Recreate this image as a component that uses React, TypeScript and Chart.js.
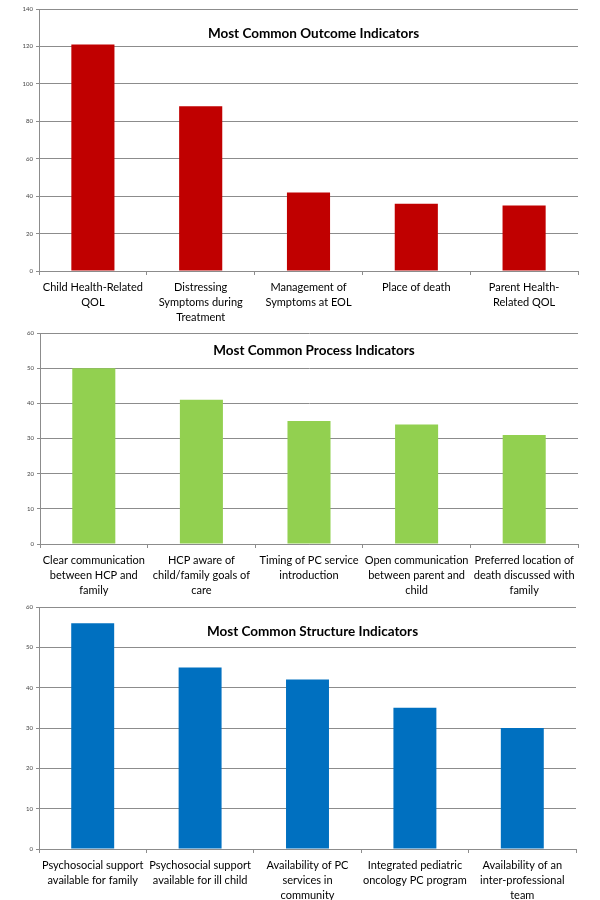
import React, { useEffect, useRef } from "react";
import { Chart, registerables } from "chart.js";

Chart.register(...registerables);

const outcomeTitle = "Most Common Outcome Indicators";
const outcomeLabels = [
  ["Child Health-Related", "QOL"],
  ["Distressing", "Symptoms during", "Treatment"],
  ["Management of", "Symptoms at EOL"],
  ["Place of death"],
  ["Parent Health-", "Related QOL"],
];
const outcomeValues = [121, 88, 42, 36, 35];
const outcomeMax = 140;
const outcomeStep = 20;

const processTitle = "Most Common Process Indicators";
const processLabels = [
  ["Clear communication", "between HCP and", "family"],
  ["HCP aware of", "child/family goals of", "care"],
  ["Timing of PC service", "introduction"],
  ["Open communication", "between parent and", "child"],
  ["Preferred location of", "death discussed with", "family"],
];
const processValues = [50, 41, 35, 34, 31];
const processMax = 60;
const processStep = 10;

const structureTitle = "Most Common Structure Indicators";
const structureLabels = [
  ["Psychosocial support", "available for family"],
  ["Psychosocial support", "available for ill child"],
  ["Availability of PC", "services in", "community"],
  ["Integrated pediatric", "oncology PC program"],
  ["Availability of an", "inter-professional", "team"],
];
const structureValues = [56, 45, 42, 35, 30];
const structureMax = 60;
const structureStep = 10;

const FONT = "Lato, 'Open Sans', sans-serif";

type Props = {
  top: number;
  height: number;
  labels: string[][];
  values: number[];
  max: number;
  step: number;
  color: string;
  title: string;
  padTop: number;
  padRight: number;
  yWidth: number;
  xHeight: number;
  titleY: number;
};

function BarChart(p: Props) {
  const ref = useRef<HTMLCanvasElement>(null);
  useEffect(() => {
    if (!ref.current) return;
    const titlePlugin = {
      id: "inTitle",
      afterDraw(chart: any) {
        const { ctx, chartArea } = chart;
        ctx.save();
        ctx.font = `bold 13.5px ${FONT}`;
        ctx.fillStyle = "#000";
        ctx.textAlign = "center";
        ctx.textBaseline = "middle";
        ctx.fillText(p.title, (chartArea.left + chartArea.right) / 2 + 5, chartArea.top + p.titleY);
        ctx.restore();
      },
    };
    const chart = new Chart(ref.current, {
      type: "bar",
      data: {
        labels: p.labels,
        datasets: [
          {
            data: p.values,
            backgroundColor: p.color,
            borderWidth: 0,
            barPercentage: 0.4,
            categoryPercentage: 1,
          },
        ],
      },
      options: {
        responsive: false,
        animation: false,
        layout: { padding: { top: p.padTop, right: p.padRight, left: 0, bottom: 0 } },
        plugins: { legend: { display: false }, tooltip: { enabled: false }, title: { display: false } },
        scales: {
          x: {
            grid: { display: true, drawOnChartArea: false, tickLength: 4, color: "#8c8c8c", offset: true },
            border: { display: true, color: "#8c8c8c" },
            ticks: {
              autoSkip: false,
              maxRotation: 0,
              minRotation: 0,
              padding: 5,
              color: "#000",
              font: { family: FONT, size: 11, lineHeight: 1.36 },
            },
            afterFit: (s: any) => {
              s.height = p.xHeight;
            },
          },
          y: {
            min: 0,
            max: p.max,
            ticks: {
              stepSize: p.step,
              padding: 3,
              color: "#444",
              font: { family: FONT, size: 6 },
            },
            grid: { color: "#8c8c8c", tickLength: 3, lineWidth: 1 },
            border: { display: true, color: "#8c8c8c" },
            afterFit: (s: any) => {
              s.width = p.yWidth;
            },
          },
        },
      },
      plugins: [titlePlugin],
    });
    return () => chart.destroy();
  }, []);
  return (
    <div style={{ position: "absolute", left: 0, top: p.top, width: 600, height: p.height }}>
      <canvas ref={ref} width={600} height={p.height} style={{ display: "block" }} />
    </div>
  );
}

export default function App() {
  return (
    <div style={{ position: "absolute", left: 0, top: 0, width: 600, height: 900, background: "#fff" }}>
      <BarChart
        top={0}
        height={325}
        labels={outcomeLabels}
        values={outcomeValues}
        max={outcomeMax}
        step={outcomeStep}
        color="#C00000"
        title={outcomeTitle}
        padTop={9}
        padRight={22}
        yWidth={39}
        xHeight={54}
        titleY={25}
      />
      <BarChart
        top={325}
        height={275}
        labels={processLabels}
        values={processValues}
        max={processMax}
        step={processStep}
        color="#92D050"
        title={processTitle}
        padTop={8}
        padRight={22}
        yWidth={40}
        xHeight={56}
        titleY={18}
      />
      <BarChart
        top={600}
        height={300}
        labels={structureLabels}
        values={structureValues}
        max={structureMax}
        step={structureStep}
        color="#0070C0"
        title={structureTitle}
        padTop={7}
        padRight={24}
        yWidth={39}
        xHeight={51}
        titleY={25}
      />
    </div>
  );
}
